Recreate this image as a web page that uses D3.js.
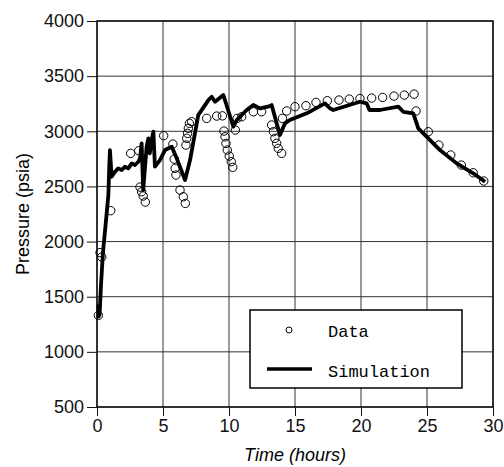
<!DOCTYPE html>
<meta http-equiv="content-type" content="text/html; charset=utf-8" />
<html lang="en">
<head>
<title>Pressure vs Time</title>
<script src="https://d3js.org/d3.v7.min.js"></script>
<style>
body { margin: 0; background: #fff; }
svg { display: block; }
</style>
</head>
<body>
<div id="plot"></div>
</body>
<script>
var width = 504, height = 467;
var margin = {top: 21, right: 11, bottom: 60, left: 97};

// measured data (open circles)
var dataT = [0.1, 0.23, 0.36, 1.04, 2.55, 3.16, 3.26, 3.38, 3.5, 3.66,
  5.05, 5.75, 5.85, 5.92, 5.98, 6.29, 6.54, 6.69,
  6.74, 6.8, 6.86, 6.92, 7.0, 7.17, 8.31, 9.07, 9.5,
  9.62, 9.7, 9.77, 9.87, 10.02, 10.17, 10.28, 10.48, 10.62, 10.96,
  11.85, 12.47, 13.23, 13.36, 13.48, 13.61, 13.73, 13.99, 14.05, 14.37,
  15.0, 15.83, 16.59, 17.45, 18.33, 19.11, 19.92, 20.81, 21.64, 22.5,
  23.28, 24.02, 24.17, 25.1, 25.9, 26.8, 27.6, 28.5, 29.3];
var dataP = [1330, 1900, 1860, 2280, 2800, 2824, 2494, 2452, 2413, 2358,
  2960, 2884, 2748, 2664, 2603, 2467, 2406, 2346,
  2875, 2936, 2981, 3027, 3072, 3087, 3117, 3138, 3140,
  3002, 2950, 2890, 2830, 2775, 2724, 2673, 3011, 3117, 3132,
  3177, 3177, 3057, 2996, 2936, 2891, 2845, 2800, 3117, 3184,
  3223, 3232, 3262, 3277, 3283, 3292, 3297, 3301, 3307, 3319,
  3328, 3337, 3184, 2996, 2875, 2785, 2694, 2624, 2549];

// simulation (thick line)
var simT = [0.12, 0.12, 0.2, 0.3, 0.45, 0.65, 0.86, 0.93, 0.98, 1.11, 1.36, 1.61,
  1.87, 2.12, 2.37, 2.63, 2.88, 3.13, 3.26, 3.38, 3.5, 3.76, 3.89, 4.0,
  4.14, 4.27, 4.39, 4.77, 5.15, 5.66, 6.04, 6.67, 7.05, 7.67, 8.44, 8.69,
  8.94, 9.57, 10.33, 10.58, 11.34, 11.84, 12.35, 13.1, 13.23, 13.86, 14.24,
  14.6, 15.89, 17.27, 17.65, 17.9, 19.92, 20.43, 20.64, 21.44, 22.83, 23.2,
  23.96, 24.34, 24.97, 25.98, 27.25, 28.5, 29.4];
var simP = [1430, 1320, 1340, 1600, 1900, 2150, 2420, 2680, 2830, 2588, 2633, 2664,
  2649, 2679, 2664, 2709, 2694, 2724, 2754, 2890, 2467, 2860, 2936, 2800,
  2921, 2996, 2679, 2739, 2830, 2860, 2755, 2558, 2739, 3147, 3283, 3313,
  3268, 3329, 3041, 3102, 3193, 3238, 3208, 3229, 3238, 2966, 3072,
  3102, 3163, 3253, 3208, 3193, 3268, 3253, 3193, 3193, 3223, 3177,
  3163, 3026, 2951, 2830, 2709, 2619, 2543];

var xTicks = [0, 5, 10, 15, 20, 25, 30];
var yTicks = [500, 1000, 1500, 2000, 2500, 3000, 3500, 4000];

var svg = d3.select("#plot").append("svg")
  .attr("width", width).attr("height", height);

var x = d3.scaleLinear().domain([0, 30]).range([margin.left, width - margin.right]);
var y = d3.scaleLinear().domain([500, 4000]).range([height - margin.bottom, margin.top]);

// grid
svg.append("g").selectAll("line").data(xTicks).enter().append("line")
  .attr("x1", d => x(d)).attr("x2", d => x(d))
  .attr("y1", y(500)).attr("y2", y(4000))
  .attr("stroke", "#333").attr("stroke-width", 1);
svg.append("g").selectAll("line").data(yTicks).enter().append("line")
  .attr("x1", x(0)).attr("x2", x(30))
  .attr("y1", d => y(d)).attr("y2", d => y(d))
  .attr("stroke", "#333").attr("stroke-width", 1);

// axes
var xAxis = svg.append("g")
  .attr("transform", "translate(0," + y(500) + ")")
  .call(d3.axisBottom(x).tickValues(xTicks).tickFormat(d3.format("d")).tickSize(9).tickPadding(3));
var yAxis = svg.append("g")
  .attr("transform", "translate(" + x(0) + ",0)")
  .call(d3.axisLeft(y).tickValues(yTicks).tickFormat(d3.format("d")).tickSize(10).tickPadding(3));
[xAxis, yAxis].forEach(function(a) {
  a.select(".domain").remove();
  a.selectAll("line").attr("stroke", "#111");
  a.selectAll("text").attr("fill", "#111")
    .style("font-family", "'Liberation Sans', Arial, sans-serif")
    .style("font-size", "18px");
});

// frame
svg.append("rect")
  .attr("x", x(0)).attr("y", y(4000))
  .attr("width", x(30) - x(0)).attr("height", y(500) - y(4000))
  .attr("fill", "none").attr("stroke", "#111").attr("stroke-width", 1.5);

// simulation line
var line = d3.line().x(d => x(d[0])).y(d => y(d[1]));
svg.append("path")
  .datum(simT.map((t, i) => [t, simP[i]]))
  .attr("d", line)
  .attr("fill", "none").attr("stroke", "#000")
  .attr("stroke-width", 3.8).attr("stroke-linejoin", "round");

// data circles
svg.append("g").selectAll("circle")
  .data(dataT.map((t, i) => [t, dataP[i]]))
  .enter().append("circle")
  .attr("cx", d => x(d[0])).attr("cy", d => y(d[1]))
  .attr("r", 4.2)
  .attr("fill", "none").attr("stroke", "#000").attr("stroke-width", 1);

// axis labels
svg.append("text")
  .attr("x", (x(0) + x(30)) / 2).attr("y", 461)
  .attr("text-anchor", "middle")
  .style("font-family", "'Liberation Sans', Arial, sans-serif")
  .style("font-size", "18px").style("font-style", "italic")
  .text("Time (hours)");
svg.append("text")
  .attr("transform", "translate(29," + (y(2250)) + ") rotate(-90)")
  .attr("text-anchor", "middle")
  .style("font-family", "'Liberation Sans', Arial, sans-serif")
  .style("font-size", "18px")
  .text("Pressure (psia)");

// legend
var lg = svg.append("g");
lg.append("rect")
  .attr("x", 250).attr("y", 310).attr("width", 212).attr("height", 78)
  .attr("fill", "#fff").attr("stroke", "#000").attr("stroke-width", 1.5);
lg.append("circle").attr("cx", 289).attr("cy", 330).attr("r", 3)
  .attr("fill", "none").attr("stroke", "#000").attr("stroke-width", 1);
lg.append("line").attr("x1", 267).attr("x2", 312).attr("y1", 369).attr("y2", 369)
  .attr("stroke", "#000").attr("stroke-width", 3.5);
lg.selectAll("text").data(["Data", "Simulation"]).enter().append("text")
  .attr("x", 328).attr("y", (d, i) => 337 + i * 40)
  .style("font-family", "'Liberation Mono', 'DejaVu Sans Mono', monospace")
  .style("font-size", "17px")
  .text(d => d);
</script>
</html>
